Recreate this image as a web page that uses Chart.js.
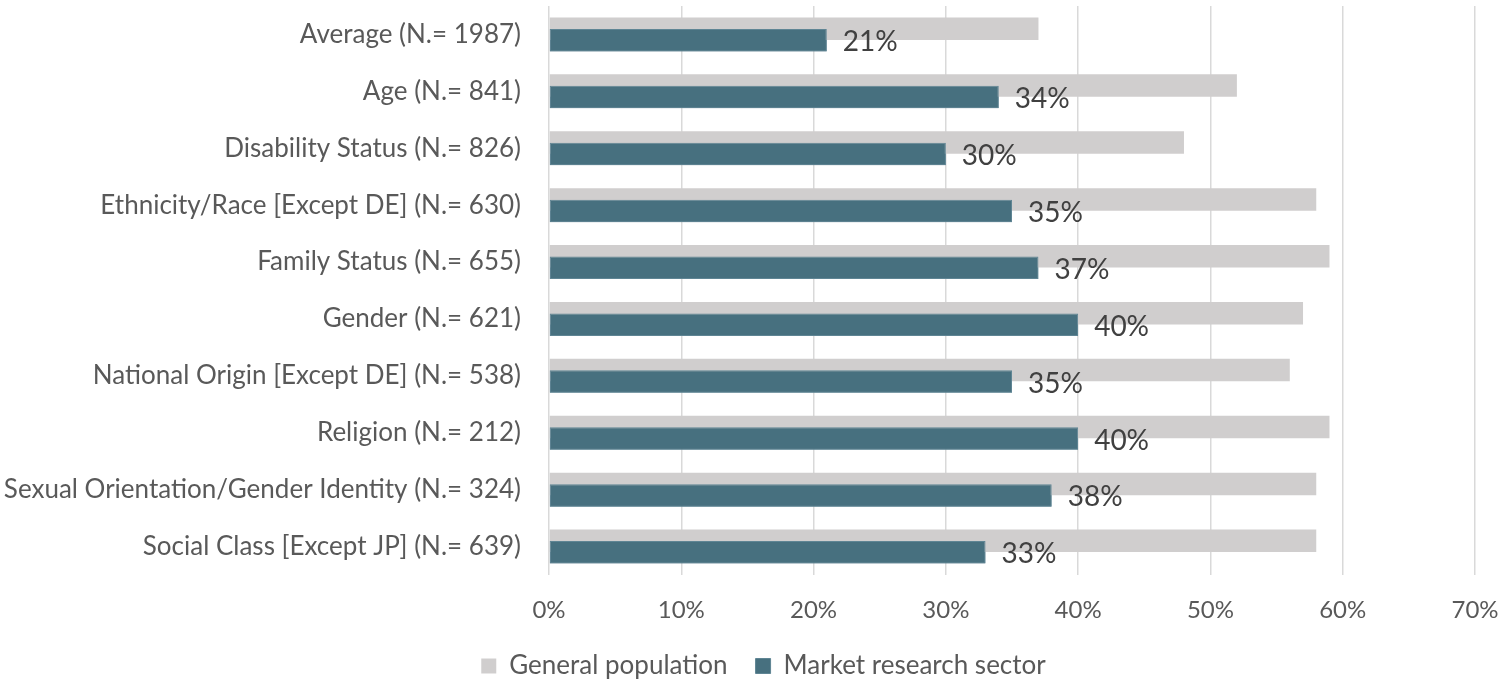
<!DOCTYPE html>
<html>
<head>
<meta charset="utf-8">
<script src="https://cdn.jsdelivr.net/npm/chart.js@4"></script>
<style>
  html, body { margin: 0; padding: 0; background: #fff; }
  #wrap { width: 1503px; height: 682px; position: relative; }
</style>
</head>
<body>
<div id="wrap"><canvas id="chart"></canvas></div>
<script>
const categories = [
    'Average (N.= 1987)',
    'Age (N.= 841)',
    'Disability Status (N.= 826)',
    'Ethnicity/Race [Except DE] (N.= 630)',
    'Family Status (N.= 655)',
    'Gender (N.= 621)',
    'National Origin [Except DE] (N.= 538)',
    'Religion (N.= 212)',
    'Sexual Orientation/Gender Identity (N.= 324)',
    'Social Class [Except JP] (N.= 639)'
];
const generalPopulation = [37, 52, 48, 58, 59, 57, 56, 59, 58, 58];
const marketResearch = [21, 34, 30, 35, 37, 40, 35, 40, 38, 33];
const seriesNames = ['General population', 'Market research sector'];

const FONT = 'Lato, "Open Sans", sans-serif';

// barras do setor por cima das cinzentas + etiquetas de valor
const frontBars = {
    id: 'frontBars',
    afterLayout(chart) {
        // legenda um pouco mais para a direita, como no original
        chart.legend.left += 26;
        chart.legend.right += 26;
    },
    afterDatasetsDraw(chart) {
        const meta = chart.getDatasetMeta(1);
        meta.controller.draw();

        const ctx = chart.ctx;
        ctx.save();
        ctx.font = '28px ' + FONT;
        ctx.fillStyle = '#404040';
        ctx.textAlign = 'left';
        ctx.textBaseline = 'middle';
        meta.data.forEach((bar, i) => {
            ctx.fillText(marketResearch[i] + '%', bar.x + 16, bar.y + 2);
        });
        ctx.restore();
    }
};

new Chart(document.getElementById('chart'), {
    type: 'bar',
    data: {
        labels: categories,
        datasets: [
            {
                label: seriesNames[0],
                data: generalPopulation,
                backgroundColor: '#D0CECE',
                categoryPercentage: 0.404,
                barPercentage: 1.96
            },
            {
                label: seriesNames[1],
                data: marketResearch,
                backgroundColor: '#47707F',
                borderColor: '#5F8594',
                borderWidth: 1,
                borderSkipped: false,
                categoryPercentage: 0.404,
                barPercentage: 1.96
            }
        ]
    },
    options: {
        indexAxis: 'y',
        responsive: true,
        maintainAspectRatio: false,
        animation: false,
        layout: { padding: { top: 6, right: 28, left: 0, bottom: -7 } },
        scales: {
            x: {
                min: 0,
                max: 70,
                ticks: {
                    stepSize: 10,
                    callback: v => v + '%',
                    color: '#595959',
                    font: { family: FONT, size: 24 },
                    padding: 21
                },
                grid: { color: '#D9D9D9', lineWidth: 1.5, drawTicks: false },
                border: { display: false },
                afterFit(scale) {
                    scale.height = 50;
                    scale.paddingLeft = 0;
                    scale.paddingRight = 0;
                }
            },
            y: {
                ticks: {
                    color: '#595959',
                    font: { family: FONT, size: 26 },
                    padding: 28
                },
                grid: { display: false, drawTicks: false },
                border: { display: false },
                afterFit(scale) {
                    scale.width = 549;
                    scale.paddingTop = 0;
                    scale.paddingBottom = 0;
                }
            }
        },
        plugins: {
            legend: {
                position: 'bottom',
                labels: {
                    color: '#595959',
                    font: { family: FONT, size: 26 },
                    boxWidth: 15,
                    boxHeight: 15,
                    padding: 28
                }
            },
            tooltip: { enabled: false }
        }
    },
    plugins: [frontBars]
});
</script>
</body>
</html>
